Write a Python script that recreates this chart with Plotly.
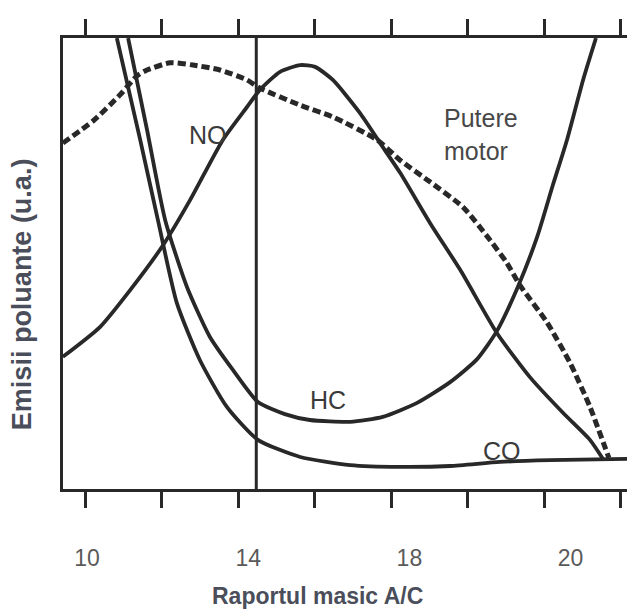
import plotly.graph_objects as go

# ---- data ----
co_x = [10.74, 11.32, 11.76, 12.23, 12.80, 13.47, 14.24, 15.29, 16.53, 17.77, 19.01, 20.25, 21.49, 23.40]
co_y = [100.0, 77.4, 59.6, 41.2, 28.6, 18.2, 10.9, 7.1, 5.3, 4.9, 5.1, 6.0, 6.4, 6.7]

hc_x = [11.02, 11.49, 11.94, 12.48, 13.05, 13.62, 14.24, 14.91, 15.53, 16.53, 17.34, 18.19,
        19.01, 19.68, 20.17, 20.69, 21.17, 21.56, 21.91, 22.31, 22.63]
hc_y = [100.0, 79.6, 59.6, 44.8, 33.7, 26.4, 19.3, 16.6, 15.3, 14.9, 16.0, 19.1,
        23.7, 28.8, 35.0, 44.8, 55.9, 67.4, 77.4, 90.7, 100.0]

nox_x = [9.40, 10.32, 11.07, 11.89, 12.56, 13.37, 13.97, 14.29, 14.79, 15.29, 15.66, 16.10,
         16.77, 17.34, 17.77, 18.51, 19.26, 20.17, 20.99, 21.81, 22.48, 22.80]
nox_y = [29.3, 35.9, 44.1, 54.1, 64.1, 77.4, 84.7, 88.5, 92.5, 94.0, 93.6, 90.7,
         83.4, 75.8, 70.1, 59.0, 48.6, 34.6, 24.8, 16.9, 10.9, 6.7]

power_x = [9.40, 10.15, 10.82, 11.24, 11.49, 12.06, 12.63, 13.30, 13.97, 14.29, 15.29, 16.10,
           17.20, 17.77, 18.51, 19.33, 20.00, 20.42, 20.74, 21.41, 21.99, 22.48, 22.95]
power_y = [76.7, 81.6, 87.4, 91.6, 92.9, 94.5, 94.0, 92.9, 90.7, 88.9, 85.1, 82.5,
           77.4, 72.9, 68.1, 62.5, 55.2, 50.1, 45.2, 37.0, 27.9, 18.2, 6.9]

stoich_x = [14.2, 14.2]
stoich_y = [0, 100]

tick_vals = [10, 14, 18, 22]
tick_text = ["10", "14", "18", "20"]

x_title = "Raportul masic A/C"
y_title = "Emisii poluante (u.a.)"

INK = "#282828"
FONT = "Liberation Sans, Arial, sans-serif"

fig = go.Figure()
line_solid = dict(color=INK, width=3.8, shape="spline", smoothing=0.6)
fig.add_trace(go.Scatter(x=co_x, y=co_y, mode="lines", line=line_solid, name="CO"))
fig.add_trace(go.Scatter(x=hc_x, y=hc_y, mode="lines", line=line_solid, name="HC"))
fig.add_trace(go.Scatter(x=nox_x, y=nox_y, mode="lines", line=line_solid, name="NO"))
fig.add_trace(go.Scatter(x=power_x, y=power_y, mode="lines",
                         line=dict(color=INK, width=5, dash="8px,4px", shape="spline", smoothing=0.6),
                         name="Putere motor"))
fig.add_trace(go.Scatter(x=stoich_x, y=stoich_y, mode="lines", line=dict(color=INK, width=3), name="stoich"))

lab_font = dict(family=FONT, size=25, color="#3a3a3a")
fig.add_annotation(x=13.0, y=78.5, text="NO", showarrow=False, font=lab_font)
fig.add_annotation(x=15.98, y=19.7, text="HC", showarrow=False, font=lab_font)
fig.add_annotation(x=20.30, y=8.4, text="CO", showarrow=False, font=lab_font)
fig.add_annotation(x=18.80, y=78.5, text="Putere<br>motor", showarrow=False,
                   xanchor="left", align="left", yanchor="middle",
                   font=dict(family=FONT, size=25, color="#484848"))

fig.add_annotation(xref="paper", yref="paper", x=0.4458, y=-0.237, text="<b>" + x_title + "</b>",
                   showarrow=False, font=dict(family=FONT, size=23, color="#4a4e5a"), yanchor="middle")
fig.add_annotation(xref="paper", yref="paper", x=-0.0717, y=0.432, text="<b>" + y_title + "</b>",
                   showarrow=False, font=dict(family=FONT, size=27, color="#4a4e5a"),
                   textangle=-90, xanchor="center", yanchor="middle")

# the page adds an 8px body margin, so the figure is 8px smaller to fit the window
fig.update_layout(
    width=627, height=602,
    margin=dict(l=55, r=0, t=30, b=121),
    paper_bgcolor="white", plot_bgcolor="white",
    showlegend=False,
    xaxis=dict(range=[9.404, 23.598], showgrid=False, zeroline=False,
               showline=True, linewidth=3, linecolor=INK, mirror="ticks",
               tickvals=tick_vals, ticktext=tick_text, ticks="",
               tickfont=dict(family=FONT, size=23, color="#5a5a5a"),
               ticklabelstandoff=46,
               minor=dict(ticks="outside", ticklen=16, tickwidth=2.5, tickcolor=INK,
                          tick0=9.95, dtick=1.9, showgrid=False),
               automargin=False),
    yaxis=dict(range=[0, 100], showgrid=False, zeroline=False, showticklabels=False,
               showline=True, linewidth=3, linecolor=INK, mirror=False, ticks="",
               automargin=False),
)

fig.write_html("out.html")
